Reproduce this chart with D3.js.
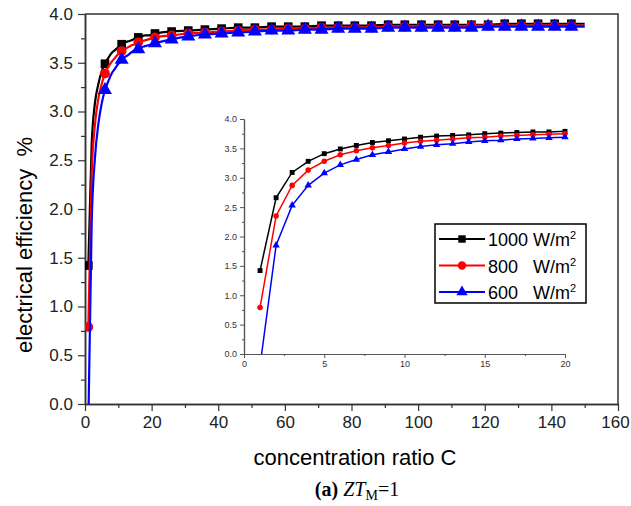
<!DOCTYPE html>
<html>
<head>
<meta charset="utf-8">
<script src="https://cdn.jsdelivr.net/npm/d3@7"></script>
<style>
  body { margin: 0; background: #fff; }
  svg { display: block; font-family: "Liberation Sans", Arial, sans-serif; }
</style>
</head>
<body>
<div id="chart"></div>
<script>
// concentration ratio C used for the main curves (markers every 5th point)
var mainC = [1, 2, 3, 4, 5, 6, 7, 8, 9, 10, 11, 12, 13, 14, 15, 16, 17, 18, 19, 20,
  21, 26, 31, 36, 41, 46, 51, 56, 61, 66, 71, 76, 81, 86, 91, 96, 101, 106, 111,
  116, 121, 126, 131, 136, 141, 146, 150];

var eff1000 = [1.42, 2.66, 3.09, 3.28, 3.41, 3.49, 3.55, 3.60, 3.63, 3.66, 3.69, 3.71, 3.72, 3.73, 3.75, 3.76, 3.77, 3.78, 3.78, 3.79,
  3.80, 3.82, 3.83, 3.84, 3.85, 3.86, 3.86, 3.87, 3.87, 3.87, 3.88, 3.88, 3.88, 3.88, 3.89, 3.89, 3.89, 3.89, 3.89,
  3.89, 3.89, 3.90, 3.90, 3.90, 3.90, 3.90, 3.90];
var eff800 = [0.79, 2.35, 2.87, 3.13, 3.28, 3.39, 3.46, 3.51, 3.55, 3.59, 3.62, 3.64, 3.66, 3.68, 3.69, 3.71, 3.72, 3.73, 3.74, 3.75,
  3.76, 3.78, 3.80, 3.81, 3.82, 3.83, 3.84, 3.84, 3.85, 3.85, 3.86, 3.86, 3.86, 3.86, 3.87, 3.87, 3.87, 3.87, 3.87,
  3.88, 3.88, 3.88, 3.88, 3.88, 3.88, 3.88, 3.88];
var eff600 = [-0.20, 1.85, 2.53, 2.87, 3.08, 3.22, 3.31, 3.39, 3.44, 3.49, 3.53, 3.56, 3.58, 3.61, 3.63, 3.64, 3.66, 3.67, 3.68, 3.69,
  3.70, 3.74, 3.77, 3.79, 3.80, 3.81, 3.82, 3.83, 3.83, 3.84, 3.84, 3.85, 3.85, 3.85, 3.86, 3.86, 3.86, 3.86, 3.86,
  3.86, 3.87, 3.87, 3.87, 3.87, 3.87, 3.87, 3.87];

var seriesNames = ["1000", "800", "600"];
var seriesColors = ["#000000", "#ff0000", "#0000ff"];
var seriesShapes = [d3.symbolSquare, d3.symbolCircle, d3.symbolTriangle];
var seriesData = [eff1000, eff800, eff600];

var xTicks = [0, 20, 40, 60, 80, 100, 120, 140, 160];
var yTicks = [0, 0.5, 1.0, 1.5, 2.0, 2.5, 3.0, 3.5, 4.0];
var insetXTicks = [0, 5, 10, 15, 20];

var width = 631, height = 506;

var svg = d3.select("#chart").append("svg")
  .attr("width", width)
  .attr("height", height);

// main scales
var x = d3.scaleLinear().domain([0, 160]).range([85, 618]);
var y = d3.scaleLinear().domain([0, 4]).range([404, 14]);

// inset scales
var xi = d3.scaleLinear().domain([0, 20]).range([244, 565]);
var yi = d3.scaleLinear().domain([0, 4]).range([354, 119]);

var defs = svg.append("defs");
defs.append("clipPath").attr("id", "clipMain").append("rect")
  .attr("x", 85).attr("y", 5).attr("width", 533).attr("height", 399);
defs.append("clipPath").attr("id", "clipInset").append("rect")
  .attr("x", 244).attr("y", 110).attr("width", 330).attr("height", 244);

var axisColor = "#333";

// main frame (top and right)
svg.append("path")
  .attr("d", "M" + x(0) + "," + y(4) + "H" + x(160) + "V" + y(0))
  .attr("fill", "none")
  .attr("stroke", axisColor)
  .attr("stroke-width", 1.5);

// main axes
var xAxis = svg.append("g")
  .attr("transform", "translate(0," + y(0) + ")")
  .call(d3.axisBottom(x).tickValues(xTicks).tickSize(7).tickPadding(5).tickSizeOuter(0));
var xMinor = svg.append("g")
  .attr("transform", "translate(0," + y(0) + ")")
  .call(d3.axisBottom(x).tickValues(d3.range(10, 160, 20)).tickSize(4).tickFormat("").tickSizeOuter(0));
var yAxis = svg.append("g")
  .attr("transform", "translate(" + x(0) + ",0)")
  .call(d3.axisLeft(y).tickValues(yTicks).tickFormat(d3.format(".1f")).tickSize(7).tickPadding(5).tickSizeOuter(0));
var yMinor = svg.append("g")
  .attr("transform", "translate(" + x(0) + ",0)")
  .call(d3.axisLeft(y).tickValues(d3.range(0.25, 4, 0.5)).tickSize(4).tickFormat("").tickSizeOuter(0));

[xAxis, xMinor, yAxis, yMinor].forEach(function (g) {
  g.select(".domain").attr("stroke", axisColor).attr("stroke-width", 1.5);
  g.selectAll(".tick line").attr("stroke", axisColor).attr("stroke-width", 1.2);
  g.selectAll(".tick text").attr("fill", "#222").style("font-size", "17px")
    .style("font-family", "Liberation Sans, Arial, sans-serif");
});
// last label sits at the right edge, nudge it inside
xAxis.selectAll(".tick text").filter(function (d) { return d === 160; }).attr("dx", -3);

// inset axes
var xiAxis = svg.append("g")
  .attr("transform", "translate(0," + yi(0) + ")")
  .call(d3.axisBottom(xi).tickValues(insetXTicks).tickSize(4).tickPadding(3).tickSizeOuter(0));
var xiMinor = svg.append("g")
  .attr("transform", "translate(0," + yi(0) + ")")
  .call(d3.axisBottom(xi).tickValues([2.5, 7.5, 12.5, 17.5]).tickSize(2).tickFormat("").tickSizeOuter(0));
var yiAxis = svg.append("g")
  .attr("transform", "translate(" + xi(0) + ",0)")
  .call(d3.axisLeft(yi).tickValues(yTicks).tickFormat(d3.format(".1f")).tickSize(4).tickPadding(3).tickSizeOuter(0));
var yiMinor = svg.append("g")
  .attr("transform", "translate(" + xi(0) + ",0)")
  .call(d3.axisLeft(yi).tickValues(d3.range(0.25, 4, 0.5)).tickSize(2).tickFormat("").tickSizeOuter(0));

[xiAxis, xiMinor, yiAxis, yiMinor].forEach(function (g) {
  g.select(".domain").attr("stroke", "#555").attr("stroke-width", 1.2);
  g.selectAll(".tick line").attr("stroke", "#555").attr("stroke-width", 1);
  g.selectAll(".tick text").attr("fill", "#333").style("font-size", "9px")
    .style("font-family", "Liberation Sans, Arial, sans-serif");
});

// main curves
var mainLayer = svg.append("g").attr("clip-path", "url(#clipMain)");
var mainLine = d3.line()
  .x(function (d) { return x(d.c); })
  .y(function (d) { return y(d.v); })
  .curve(d3.curveMonotoneX);

seriesData.forEach(function (vals, i) {
  var pts = mainC.map(function (c, j) { return { c: c, v: vals[j] }; });
  mainLayer.append("path")
    .datum(pts)
    .attr("d", mainLine)
    .attr("fill", "none")
    .attr("stroke", seriesColors[i])
    .attr("stroke-width", 2.2);
  var marks = pts.filter(function (d) { return (d.c - 1) % 5 === 0 && d.v >= 0; });
  mainLayer.selectAll(null)
    .data(marks)
    .enter()
    .append("path")
    .attr("d", d3.symbol().type(seriesShapes[i]).size(i === 2 ? 85 : 75))
    .attr("transform", function (d) { return "translate(" + x(d.c) + "," + y(d.v) + ")"; })
    .attr("fill", seriesColors[i]);
});

// inset curves (C = 1 .. 20)
var insetLayer = svg.append("g").attr("clip-path", "url(#clipInset)");
var insetLine = d3.line()
  .x(function (d) { return xi(d.c); })
  .y(function (d) { return yi(d.v); });

seriesData.forEach(function (vals, i) {
  var pts = mainC.slice(0, 20).map(function (c, j) { return { c: c, v: vals[j] }; });
  insetLayer.append("path")
    .datum(pts)
    .attr("d", insetLine)
    .attr("fill", "none")
    .attr("stroke", seriesColors[i])
    .attr("stroke-width", 1.5);
  insetLayer.selectAll(null)
    .data(pts.filter(function (d) { return d.v >= 0; }))
    .enter()
    .append("path")
    .attr("d", d3.symbol().type(seriesShapes[i]).size(24))
    .attr("transform", function (d) { return "translate(" + xi(d.c) + "," + yi(d.v) + ")"; })
    .attr("fill", seriesColors[i]);
});

// legend
var legend = svg.append("g");
legend.append("rect")
  .attr("x", 435).attr("y", 224)
  .attr("width", 151).attr("height", 79)
  .attr("fill", "#fff")
  .attr("stroke", "#000")
  .attr("stroke-width", 1.5);

var legendRows = legend.selectAll("g.row")
  .data(seriesNames)
  .enter()
  .append("g")
  .attr("class", "row")
  .attr("transform", function (d, i) { return "translate(0," + (239 + i * 26.5) + ")"; });

legendRows.append("line")
  .attr("x1", 439).attr("x2", 485)
  .attr("stroke", function (d, i) { return seriesColors[i]; })
  .attr("stroke-width", 2);
legendRows.append("path")
  .attr("d", function (d, i) { return d3.symbol().type(seriesShapes[i]).size(55)(); })
  .attr("transform", "translate(462,0)")
  .attr("fill", function (d, i) { return seriesColors[i]; });

var legendText = legendRows.append("text")
  .attr("x", 488)
  .attr("y", 7)
  .attr("fill", "#000")
  .style("font-size", "18px")
  .style("white-space", "pre")
  .attr("xml:space", "preserve");
legendText.append("tspan").text(function (d) { return d.length === 4 ? d + " W/m" : d + "   W/m"; });
legendText.append("tspan")
  .attr("dy", -7)
  .style("font-size", "11px")
  .text("2");

// axis titles
svg.append("text")
  .attr("transform", "translate(32,245) rotate(-90)")
  .attr("text-anchor", "middle")
  .style("font-size", "22px")
  .style("white-space", "pre")
  .attr("xml:space", "preserve")
  .text("electrical efficiency  %");

svg.append("text")
  .attr("x", 355)
  .attr("y", 465)
  .attr("text-anchor", "middle")
  .style("font-size", "22px")
  .text("concentration ratio C");

// caption
var caption = svg.append("text")
  .attr("x", 357)
  .attr("y", 496)
  .attr("text-anchor", "middle")
  .style("font-family", "Liberation Serif, Times New Roman, serif")
  .style("font-size", "20px")
  .attr("fill", "#000");
caption.append("tspan").style("font-weight", "bold").text("(a)");
caption.append("tspan").text(" ");
caption.append("tspan").style("font-style", "italic").text("ZT");
caption.append("tspan").attr("dy", 4).style("font-size", "14px").text("M");
caption.append("tspan").attr("dy", -4).text("=1");
</script>
</body>
</html>
